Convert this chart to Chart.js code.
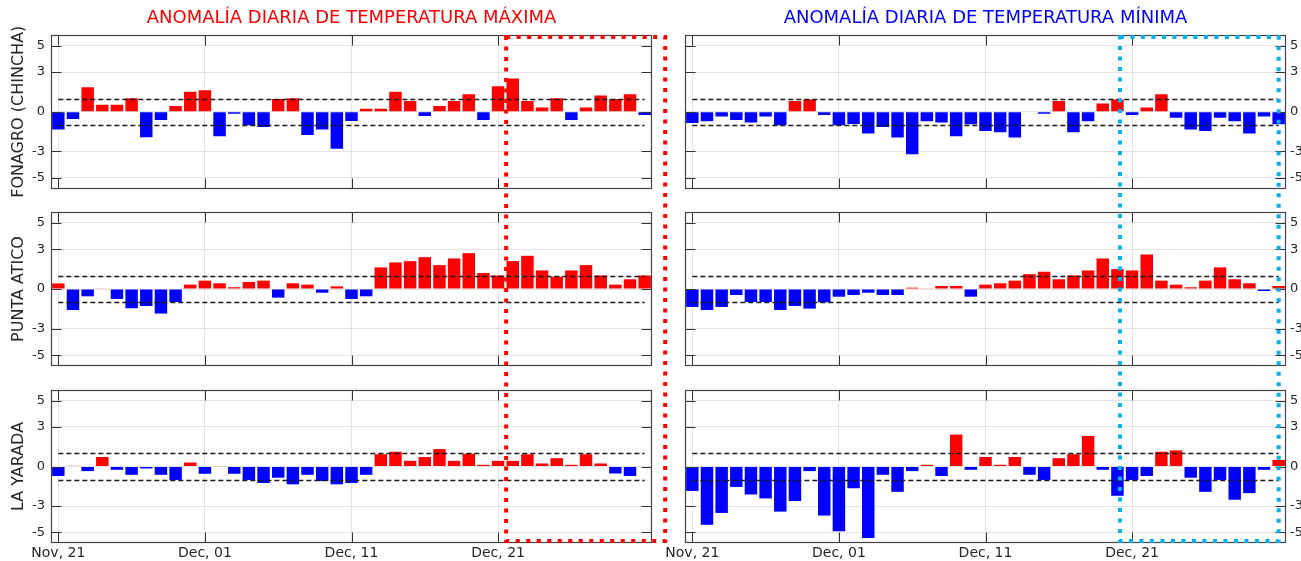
<!DOCTYPE html>
<html>
<head>
<meta charset="utf-8">
<script src="https://cdn.jsdelivr.net/npm/chart.js@4.4.0/dist/chart.umd.min.js"></script>
<style>
  html, body { margin: 0; padding: 0; background: #ffffff; }
  #page { position: relative; width: 1301px; height: 561px; overflow: hidden; background: #ffffff; }
  .col { position: absolute; top: 0; height: 561px; }
  .col canvas { position: absolute; left: 0; top: 0; }
</style>
</head>
<body>
<div id="page">
  <div class="col" id="colMax" style="left:0px;width:670px;"></div>
  <div class="col" id="colMin" style="left:655px;width:646px;"></div>
</div>
<script>
// Daily categories, 21 Nov - 31 Dec
const days = [
  'Nov, 21','Nov, 22','Nov, 23','Nov, 24','Nov, 25','Nov, 26','Nov, 27','Nov, 28','Nov, 29','Nov, 30',
  'Dec, 01','Dec, 02','Dec, 03','Dec, 04','Dec, 05','Dec, 06','Dec, 07','Dec, 08','Dec, 09','Dec, 10',
  'Dec, 11','Dec, 12','Dec, 13','Dec, 14','Dec, 15','Dec, 16','Dec, 17','Dec, 18','Dec, 19','Dec, 20',
  'Dec, 21','Dec, 22','Dec, 23','Dec, 24','Dec, 25','Dec, 26','Dec, 27','Dec, 28','Dec, 29','Dec, 30','Dec, 31'
];
const shownTicks = ['Nov, 21', 'Dec, 01', 'Dec, 11', 'Dec, 21'];
const yTicks = [5, 3, 0, -3, -5];
const thresholds = [1, -1];

const stations = ['FONAGRO (CHINCHA)', 'PUNTA ATICO', 'LA YARADA'];
const titles = ['ANOMALÍA DIARIA DE TEMPERATURA MÁXIMA', 'ANOMALÍA DIARIA DE TEMPERATURA MÍNIMA'];

// Daily maximum temperature anomaly (°C)
const fonagroMax = [-1.35,-0.55,1.85,0.52,0.52,1.02,-1.93,-0.63,0.43,1.52,1.62,-1.85,-0.15,-1.02,-1.15,0.97,1.02,-1.75,-1.35,-2.8,-0.7,0.22,0.22,1.52,0.82,-0.32,0.43,0.82,1.32,-0.63,1.92,2.52,0.82,0.33,1.02,-0.63,0.33,1.22,0.97,1.32,-0.25];
const puntaMax   = [0.42,-1.58,-0.55,0.05,-0.75,-1.45,-1.28,-1.85,-0.98,0.33,0.63,0.43,0.13,0.53,0.63,-0.65,0.43,0.33,-0.28,0.2,-0.75,-0.55,1.63,2.0,2.1,2.4,1.8,2.3,2.7,1.2,1.02,2.1,2.5,1.4,0.93,1.4,1.8,1.02,0.33,0.73,1.02];
const yaradaMax  = [-0.72,0.05,-0.35,0.72,-0.25,-0.63,-0.15,-0.63,-1.02,0.3,-0.55,0.03,-0.55,-1.02,-1.25,-0.85,-1.35,-0.63,-1.1,-1.35,-1.25,-0.63,0.93,1.12,0.43,0.72,1.32,0.43,0.97,0.13,0.43,0.43,0.93,0.23,0.63,0.13,0.93,0.23,-0.53,-0.72,null];

// Daily minimum temperature anomaly (°C)
const fonagroMin = [-0.85,-0.72,-0.35,-0.63,-0.82,-0.35,-1.02,0.82,0.93,-0.25,-1.02,-0.93,-1.65,-1.15,-1.95,-3.22,-0.72,-0.82,-1.85,-0.95,-1.45,-1.55,-1.95,0.03,-0.15,0.82,-1.55,-0.72,0.63,0.93,-0.25,0.33,1.32,-0.45,-1.35,-1.45,-0.45,-0.72,-1.65,-0.35,-0.95];
const puntaMin   = [-1.35,-1.58,-1.35,-0.45,-0.98,-0.98,-1.58,-1.28,-1.48,-1.0,-0.58,-0.45,-0.28,-0.45,-0.45,0.1,0.05,0.23,0.23,-0.58,0.33,0.43,0.63,1.12,1.3,0.73,1.02,1.4,2.3,1.5,1.4,2.6,0.63,0.33,0.13,0.63,1.63,0.73,0.43,-0.15,0.23];
const yaradaMin  = [-1.85,-4.42,-3.52,-1.55,-2.12,-2.42,-3.42,-2.62,-0.35,-3.72,-4.9,-1.65,-5.42,-0.63,-1.92,-0.35,0.13,-0.72,2.42,-0.25,0.72,0.13,0.72,-0.63,-1.02,0.63,0.93,2.32,-0.25,-2.22,-1.02,-0.72,1.12,1.22,-0.85,-1.92,-1.02,-2.52,-2.02,-0.25,0.5];

// Highlighted period (category positions) for each column
const maxWindow = [30.55, 41.4];
const minWindow = [29.17, 40.0];

const FONT = '"DejaVu Sans", "Liberation Sans", sans-serif';
const TEXT = '#262626';
const GRID = '#e4e4e4';
const POS = '#ff0000';
const NEG = '#0000ff';
const H = 561;

// vertical extent of each panel's plotting box
const rows = [
  { top: 35, bottom: 188.5 },
  { top: 212, bottom: 366 },
  { top: 390, bottom: 543 }
];

// frame, inward ticks and ±1 dashed reference lines
const panelFrame = {
  id: 'panelFrame',
  afterDatasetsDraw(chart) {
    const { ctx, chartArea: a, scales: { x, y } } = chart;
    const TL = 10;
    ctx.save();
    // reference lines
    ctx.strokeStyle = '#1a1a1a';
    ctx.lineWidth = 1.3;
    ctx.setLineDash([5, 3]);
    const xa = x.getPixelForValue(0), xb = x.getPixelForValue(days.length - 1);
    thresholds.forEach(t => {
      const py = Math.round(y.getPixelForValue(t)) + 0.5;
      ctx.beginPath(); ctx.moveTo(xa, py); ctx.lineTo(xb, py); ctx.stroke();
    });
    ctx.setLineDash([]);
    // tick marks pointing inward on all four sides
    ctx.strokeStyle = '#333333';
    ctx.lineWidth = 1;
    const L = Math.round(a.left) + 0.5, R = Math.round(a.right) - 0.5;
    const T = Math.round(a.top) + 0.5, B = Math.round(a.bottom) - 0.5;
    yTicks.forEach(v => {
      const py = Math.round(y.getPixelForValue(v)) + 0.5;
      ctx.beginPath();
      ctx.moveTo(L, py); ctx.lineTo(L + TL, py);
      ctx.moveTo(R - TL, py); ctx.lineTo(R, py);
      ctx.stroke();
    });
    shownTicks.forEach(lbl => {
      const px = Math.round(x.getPixelForValue(days.indexOf(lbl))) + 0.5;
      ctx.beginPath();
      ctx.moveTo(px, T); ctx.lineTo(px, T + TL);
      ctx.moveTo(px, B - TL); ctx.lineTo(px, B);
      ctx.stroke();
    });
    // box
    ctx.strokeStyle = '#444444';
    ctx.lineWidth = 1.2;
    ctx.strokeRect(L, T, R - L, B - T);
    ctx.restore();
  }
};

function makeColumn(col) {
  const charts = [];
  const highlight = {
    id: 'highlight',
    afterDraw(chart) {
      const { ctx, scales: { x } } = chart;
      const top = charts[0].chartArea.top;
      const bottom = chart.chartArea.bottom;
      const lw = 4;
      const x0 = x.getPixelForValue(col.window[0]);
      const x1 = x.getPixelForValue(col.window[1]);
      ctx.save();
      ctx.strokeStyle = col.windowColor;
      ctx.lineWidth = lw;
      ctx.lineCap = 'butt';
      ctx.setLineDash([4, 6.5]);
      ctx.strokeRect(x0, top + lw / 2, x1 - x0, bottom - top - lw);
      ctx.restore();
    }
  };

  col.series.forEach((values, r) => {
    const canvas = document.createElement('canvas');
    canvas.width = col.width;
    canvas.height = H;
    canvas.style.width = col.width + 'px';
    canvas.style.height = H + 'px';
    col.el.appendChild(canvas);
    const row = rows[r];
    const isTop = r === 0;
    const isBottom = r === col.series.length - 1;

    const chart = new Chart(canvas, {
      type: 'bar',
      data: {
        labels: days,
        datasets: [{
          data: values,
          backgroundColor: c => (c.raw >= 0 ? POS : NEG),
          borderWidth: 0,
          barPercentage: 0.85,
          categoryPercentage: 1
        }]
      },
      options: {
        responsive: false,
        animation: false,
        devicePixelRatio: 1,
        events: [],
        layout: {
          padding: {
            left: col.padL,
            right: col.padR,
            top: isTop ? 0 : row.top,
            bottom: isBottom ? 0 : H - row.bottom
          }
        },
        plugins: {
          legend: { display: false },
          tooltip: { enabled: false },
          title: {
            display: isTop,
            fullSize: false,
            text: col.title,
            color: col.titleColor,
            font: { family: FONT, size: 18, weight: 'normal' },
            padding: { top: 7.4, bottom: 6 }
          }
        },
        scales: {
          x: {
            type: 'category',
            offset: true,
            grid: {
              offset: false,
              drawTicks: false,
              color: c => (shownTicks.includes(days[c.index]) ? GRID : 'rgba(0,0,0,0)')
            },
            border: { display: false },
            ticks: {
              display: isBottom,
              autoSkip: false,
              maxRotation: 0,
              minRotation: 0,
              padding: 2,
              color: TEXT,
              font: { family: FONT, size: 14 },
              callback: (v, i) => (shownTicks.includes(days[i]) ? days[i] : '')
            },
            afterFit: s => { s.height = isBottom ? 18 : 0; s.paddingLeft = 0; s.paddingRight = 0; }
          },
          y: {
            type: 'linear',
            position: col.side,
            min: -5.8,
            max: 5.8,
            grid: { color: GRID, drawTicks: false },
            border: { display: false },
            afterBuildTicks: s => { s.ticks = yTicks.map(v => ({ value: v })); },
            ticks: {
              padding: col.side === 'left' ? 6 : 4,
              color: TEXT,
              font: { family: FONT, size: 13 },
              callback: v => String(v)
            },
            title: {
              display: !!col.stations,
              text: col.stations ? col.stations[r] : '',
              color: TEXT,
              font: { family: FONT, size: 16 },
              padding: { top: 9, bottom: 0 }
            },
            afterFit: s => { s.width = col.axisW; s.paddingTop = 0; s.paddingBottom = 0; }
          }
        }
      },
      plugins: isBottom ? [panelFrame, highlight] : [panelFrame]
    });
    charts.push(chart);
  });
}

makeColumn({
  el: document.getElementById('colMax'),
  width: 670, side: 'left', axisW: 51, padL: 0, padR: 18,
  title: titles[0], titleColor: '#ff0000',
  stations: stations,
  series: [fonagroMax, puntaMax, yaradaMax],
  window: maxWindow, windowColor: '#ff0000'
});

makeColumn({
  el: document.getElementById('colMin'),
  width: 646, side: 'right', axisW: 15, padL: 30, padR: 0,
  title: titles[1], titleColor: '#0000ff',
  stations: null,
  series: [fonagroMin, puntaMin, yaradaMin],
  window: minWindow, windowColor: '#00b0f0'
});
</script>
</body>
</html>
